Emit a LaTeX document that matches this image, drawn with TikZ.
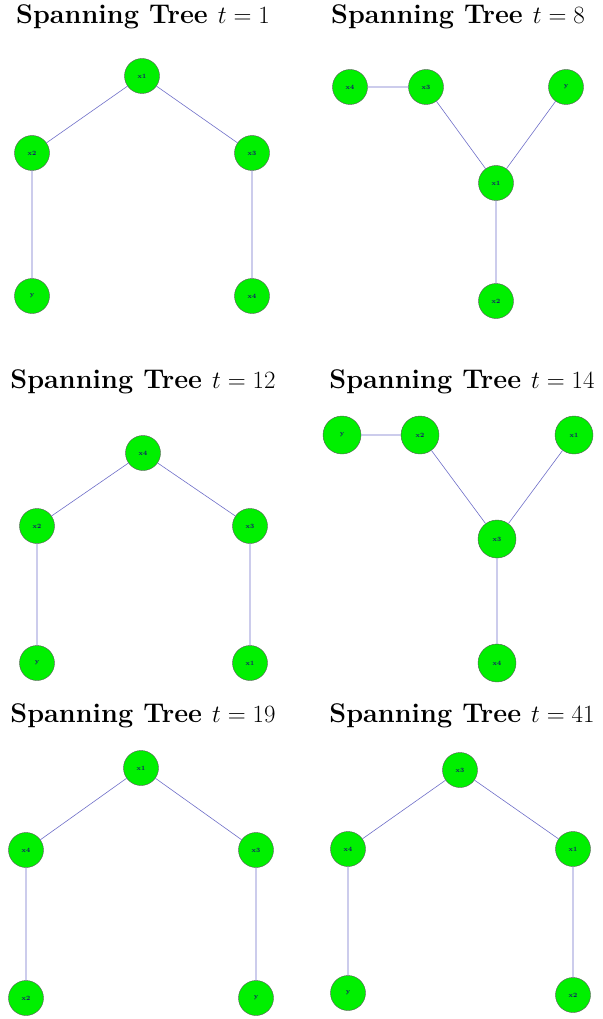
\documentclass[tikz,border=0pt]{standalone}
\begin{document}
\begin{tikzpicture}[x=1pt,y=-1pt,
  vtx/.style={circle,draw=black!65,line width=0.4pt,fill={rgb,255:red,0;green,240;blue,0},minimum size=35pt,inner sep=0pt,font=\fontsize{6.5}{7}\selectfont\bfseries,text={rgb,255:red,20;green,20;blue,110}},
  bigvtx/.style={vtx,minimum size=38pt},
  edg/.style={draw={rgb,255:red,110;green,110;blue,200},line width=0.6pt},
  ttl/.style={font=\fontsize{27}{32}\selectfont\bfseries,inner sep=0pt}]
\useasboundingbox (0,0) rectangle (602,1019);
% titles
\node[ttl] (t1) at (143,17) {Spanning Tree $t=1$};
\node[ttl] (t2) at (458,17) {Spanning Tree $t=8$};
\node[ttl] (t3) at (143,382) {Spanning Tree $t=12$};
\node[ttl] (t4) at (462,382) {Spanning Tree $t=14$};
\node[ttl] (t5) at (143,716) {Spanning Tree $t=19$};
\node[ttl] (t6) at (462,716) {Spanning Tree $t=41$};
% panel 1
\node[vtx] (a1) at (142,76) {x1};
\node[vtx] (a2) at (32,153) {x2};
\node[vtx] (a3) at (252,153) {x3};
\node[vtx] (ay) at (32,296) {y};
\node[vtx] (a4) at (252,296) {x4};
\draw[edg] (a1)--(a2) (a1)--(a3) (a2)--(ay) (a3)--(a4);
% panel 2
\node[vtx] (b4) at (350,87) {x4};
\node[vtx] (b3) at (426,87) {x3};
\node[vtx] (by) at (566,87) {y};
\node[vtx] (b1) at (496,183) {x1};
\node[vtx] (b2) at (496,301) {x2};
\draw[edg] (b4)--(b3) (b3)--(b1) (by)--(b1) (b1)--(b2);
% panel 3
\node[vtx] (c4) at (143,453) {x4};
\node[vtx] (c2) at (37,526) {x2};
\node[vtx] (c3) at (250,526) {x3};
\node[vtx] (cy) at (37,663) {y};
\node[vtx] (c1) at (250,663) {x1};
\draw[edg] (c4)--(c2) (c4)--(c3) (c2)--(cy) (c3)--(c1);
% panel 4
\node[bigvtx] (dy) at (342,435) {y};
\node[bigvtx] (d2) at (420,435) {x2};
\node[bigvtx] (d1) at (574,435) {x1};
\node[bigvtx] (d3) at (497,539) {x3};
\node[bigvtx] (d4) at (497,663) {x4};
\draw[edg] (dy)--(d2) (d2)--(d3) (d1)--(d3) (d3)--(d4);
% panel 5
\node[vtx] (e1) at (141,768) {x1};
\node[vtx] (e4) at (26,850) {x4};
\node[vtx] (e3) at (256,850) {x3};
\node[vtx] (e2) at (26,998) {x2};
\node[vtx] (ey) at (256,998) {y};
\draw[edg] (e1)--(e4) (e1)--(e3) (e4)--(e2) (e3)--(ey);
% panel 6
\node[vtx] (f3) at (460,770) {x3};
\node[vtx] (f4) at (348,849) {x4};
\node[vtx] (f1) at (573,849) {x1};
\node[vtx] (fy) at (348,993) {y};
\node[vtx] (f2) at (573,995) {x2};
\draw[edg] (f3)--(f4) (f3)--(f1) (f4)--(fy) (f1)--(f2);
\end{tikzpicture}
\end{document}
